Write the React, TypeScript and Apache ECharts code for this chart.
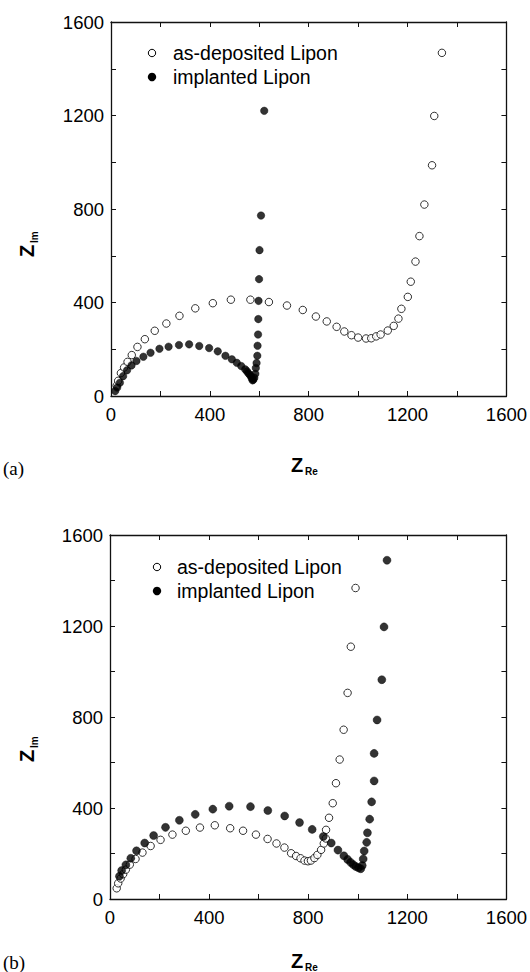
import React, { useEffect, useRef } from "react";
import * as echarts from "echarts";

// Panel (a): Nyquist data (Z_Re, Z_Im)
const aOpenRe = [23, 29, 40, 53, 67, 84, 107, 137, 177, 224, 277, 341, 412, 485, 564, 639, 712, 776, 829, 873, 913, 944, 973, 1000, 1032, 1053, 1073, 1091, 1120, 1144, 1163, 1175, 1201, 1213, 1232, 1248, 1268, 1299, 1308, 1339];
const aOpenIm = [44, 65, 98, 122, 146, 175, 210, 243, 279, 310, 343, 375, 397, 412, 412, 402, 387, 368, 340, 319, 296, 276, 260, 250, 246, 247, 255, 263, 280, 300, 331, 373, 424, 489, 575, 684, 819, 987, 1198, 1468];
const aFillRe = [17, 25, 36, 49, 65, 83, 103, 131, 160, 196, 233, 275, 316, 357, 397, 432, 463, 489, 509, 527, 543, 550, 556, 562, 567, 570, 573, 576, 580, 584, 586, 589, 592, 593, 595, 596, 597, 599, 601, 607, 620];
const aFillIm = [21, 36, 57, 85, 110, 131, 150, 168, 185, 202, 211, 218, 221, 214, 205, 191, 172, 157, 142, 128, 114, 106, 97, 90, 83, 75, 67, 70, 78, 95, 120, 141, 172, 215, 263, 329, 407, 500, 624, 772, 1220];

// Panel (b)
const bOpenRe = [27, 33, 43, 53, 64, 80, 103, 131, 164, 204, 252, 306, 363, 423, 485, 537, 589, 636, 672, 704, 731, 751, 769, 785, 799, 811, 825, 837, 852, 863, 871, 872, 884, 899, 912, 927, 943, 959, 972, 991];
const bOpenIm = [47, 69, 90, 109, 129, 151, 176, 204, 233, 260, 283, 300, 314, 324, 311, 300, 283, 264, 244, 226, 201, 189, 179, 169, 166, 169, 180, 194, 216, 244, 266, 304, 357, 421, 509, 613, 744, 906, 1109, 1367];
const bFillRe = [38, 47, 64, 84, 107, 140, 176, 224, 280, 344, 415, 481, 567, 637, 705, 765, 816, 861, 893, 920, 944, 959, 971, 982, 992, 1003, 1012, 1018, 1022, 1026, 1036, 1039, 1048, 1056, 1066, 1066, 1078, 1097, 1106, 1118];
const bFillIm = [100, 125, 150, 179, 212, 246, 279, 315, 346, 372, 395, 408, 406, 389, 365, 336, 306, 275, 246, 215, 190, 174, 161, 151, 143, 137, 133, 147, 176, 211, 249, 291, 351, 427, 519, 640, 787, 964, 1196, 1489];

const axisTicks = [0, 400, 800, 1200, 1600];
const seriesNames = ["as-deposited Lipon", "implanted Lipon"];
const panelLabels = ["(a)", "(b)"];

const SANS = "'Liberation Sans', Arial, Helvetica, sans-serif";
const SERIF = "'Liberation Serif', 'Times New Roman', serif";

const zip = (xs: number[], ys: number[]) => xs.map((x, i) => [x, ys[i]]);

export default function App() {
  const ref = useRef<HTMLDivElement>(null);
  useEffect(() => {
    if (!ref.current) return;
    const chart = echarts.init(ref.current, null, { renderer: "svg" });

    const grids = [
      { left: 111, top: 22, width: 400, height: 374 },
      { left: 110, top: 535, width: 400, height: 364 },
    ];

    const lineStyle = { color: "#111", width: 1.3 };
    const labelFmt = (v: number) => (axisTicks.includes(v) ? String(v) : "");
    const mkAxis = (gi: number, pos: string, showLabel: boolean, isX: boolean) => ({
      type: "value",
      gridIndex: gi,
      position: pos,
      min: 0,
      max: 1600,
      interval: 200,
      axisLine: { show: true, onZero: false, lineStyle },
      axisTick: { show: true, inside: true, length: 5, lineStyle: { color: "#111", width: 1 } },
      axisLabel: {
        show: showLabel,
        formatter: labelFmt,
        color: "#000",
        fontSize: 18.5,
        fontFamily: SANS,
        margin: isX ? 9 : 7,
      },
      splitLine: { show: false },
    });

    const xAxis = [0, 1].flatMap((gi) => [mkAxis(gi, "bottom", true, true), mkAxis(gi, "top", false, true)]);
    const yAxis = [0, 1].flatMap((gi) => [mkAxis(gi, "left", true, false), mkAxis(gi, "right", false, false)]);

    const openStyle = { color: "#fff", borderColor: "#000", borderWidth: 1 };
    const fillStyle = { color: "#000", borderColor: "#000", borderWidth: 0.5 };
    const mkSeries = (gi: number, name: string, data: number[][], style: any, z: number, size: number) => ({
      type: "scatter",
      name,
      xAxisIndex: gi * 2,
      yAxisIndex: gi * 2,
      data,
      symbol: "circle",
      symbolSize: size,
      itemStyle: style,
      z,
      emphasis: { disabled: true },
    });

    const series = [
      mkSeries(0, seriesNames[0], zip(aOpenRe, aOpenIm), openStyle, 2, 7.5),
      mkSeries(0, seriesNames[1], zip(aFillRe, aFillIm), fillStyle, 3, 7.5),
      mkSeries(1, seriesNames[0], zip(bOpenRe, bOpenIm), openStyle, 2, 7.5),
      mkSeries(1, seriesNames[1], zip(bFillRe, bFillIm), fillStyle, 3, 8),
    ];

    const legendPos = [
      { cx: 152, y0: 53, tx: 173 },
      { cx: 157, y0: 567, tx: 177 },
    ];
    const graphic: any[] = [];
    legendPos.forEach((p) => {
      graphic.push(
        { type: "circle", shape: { cx: p.cx, cy: p.y0, r: 3.7 }, style: { fill: "#fff", stroke: "#000", lineWidth: 1 } },
        { type: "text", x: p.tx, y: p.y0, style: { text: seriesNames[0], fill: "#000", font: `19.5px ${SANS}`, textAlign: "left", textVerticalAlign: "middle" } },
        { type: "circle", shape: { cx: p.cx, cy: p.y0 + 24, r: 4.2 }, style: { fill: "#000" } },
        { type: "text", x: p.tx, y: p.y0 + 24, style: { text: seriesNames[1], fill: "#000", font: `19.5px ${SANS}`, textAlign: "left", textVerticalAlign: "middle" } }
      );
    });

    const xTitleY = [465, 961];
    const yTitleY = [246, 751];
    const panelY = [468, 962];
    [0, 1].forEach((gi) => {
      graphic.push({
        type: "group",
        x: 303,
        y: xTitleY[gi],
        children: [
          { type: "text", x: -6, y: 0, style: { text: "Z", fill: "#000", font: `bold 20px ${SANS}`, textAlign: "center", textVerticalAlign: "middle" } },
          { type: "text", x: 2, y: 6, style: { text: "Re", fill: "#000", font: `bold 10px ${SANS}`, textAlign: "left", textVerticalAlign: "middle" } },
        ],
      });
      graphic.push({
        type: "group",
        x: 27,
        y: yTitleY[gi],
        rotation: Math.PI / 2,
        children: [
          { type: "text", x: -5, y: 0, style: { text: "Z", fill: "#000", font: `bold 20px ${SANS}`, textAlign: "center", textVerticalAlign: "middle" } },
          { type: "text", x: 3, y: 7, style: { text: "Im", fill: "#000", font: `bold 10px ${SANS}`, textAlign: "left", textVerticalAlign: "middle" } },
        ],
      });
      graphic.push({
        type: "text",
        x: 3,
        y: panelY[gi],
        style: { text: panelLabels[gi], fill: "#000", font: `19px ${SERIF}`, textAlign: "left", textVerticalAlign: "middle" },
      });
    });

    chart.setOption({
      animation: false,
      backgroundColor: "#fff",
      grid: grids,
      xAxis,
      yAxis,
      series,
      graphic,
    });
    return () => chart.dispose();
  }, []);

  return <div ref={ref} style={{ position: "absolute", left: 0, top: 0, width: 530, height: 972 }} />;
}
